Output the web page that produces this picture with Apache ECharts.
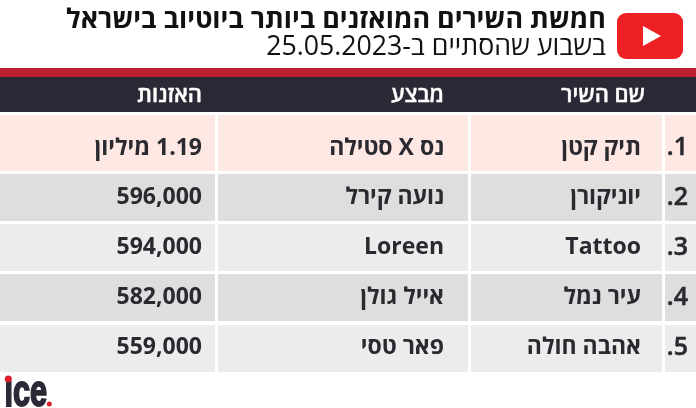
<!DOCTYPE html>
<html dir="rtl"><head><meta charset="utf-8">
<script src="https://cdn.jsdelivr.net/npm/echarts@6/dist/echarts.min.js"></script>
<style>html,body{margin:0;padding:0;background:#fff}#c{width:696px;height:408px}</style>
</head><body><div id="c"></div>
<script>
const titleText='חמשת השירים המואזנים ביותר ביוטיוב בישראל';
const subtitleText='בשבוע שהסתיים ב-25.05.2023';
const headers=['שם השיר','מבצע','האזנות'];
const ranks=['1.','2.','3.','4.','5.'];
const songs=['תיק קטן','יוניקורן','Tattoo','עיר נמל','אהבה חולה'];
const artists=['נס X סטילה','נועה קירל','Loreen','אייל גולן','פאר טסי'];
const plays=['1.19 מיליון','596,000','594,000','582,000','559,000'];

const FONT='"Open Sans"';
const colEdges=[[665,696],[471,662],[218,468],[0,215]];
const rowEdges=[[115,171],[174,221],[224,271],[274,321],[325,372]];
const rowCenter=[148,197.5,247.5,297.5,347.5];
const rowFill=['#fde8e3','#dfdddd','#edecec','#dfdddd','#edecec'];
const textRight=[688,641,444,202];
const headRight=[645,444,202];
const ink='#2a2930';

const cells=[];
[ranks,songs,artists,plays].forEach((col,c)=>col.forEach((t,r)=>cells.push({c,r,t})));

function renderCell(params,api){
  const {c,r,t}=cells[params.dataIndex];
  const [x0,x1]=colEdges[c],[y0,y1]=rowEdges[r];
  return {type:'group',children:[
    {type:'rect',shape:{x:x0,y:y0,width:x1-x0,height:y1-y0},style:{fill:rowFill[r]},silent:true},
    {type:'text',style:{text:t,x:textRight[c],y:rowCenter[r],align:'right',verticalAlign:'middle',
      font:(c===0?'600 25px ':'700 23px ')+FONT,fill:ink,stroke:c===0?ink:null,lineWidth:c===0?0.5:0}}
  ]};
}
const chart=echarts.init(document.getElementById('c'),null,{renderer:'canvas'});
chart.setOption({
  animation:false,
  backgroundColor:'#fff',
  series:[{type:'custom',coordinateSystem:'none',data:cells.map((d,i)=>[i]),renderItem:renderCell,silent:true}],
  graphic:[
    {type:'rect',shape:{x:0,y:68,width:696,height:9},style:{fill:'#ba2030'}},
    {type:'rect',shape:{x:0,y:77,width:696,height:35},style:{fill:'#2a2936'}},
    ...headers.map((h,i)=>({type:'text',style:{text:h,x:headRight[i],y:95.5,align:'right',verticalAlign:'middle',font:'600 22px '+FONT,fill:'#fff',stroke:'#fff',lineWidth:0.4}})),
    {type:'text',style:{text:titleText,x:606,y:20,align:'right',verticalAlign:'middle',font:'700 26.85px '+FONT,fill:'#111'}},
    {type:'text',style:{text:subtitleText,x:606,y:47,align:'right',verticalAlign:'middle',font:'400 26.7px '+FONT,fill:'#111'}},
    {type:'rect',shape:{x:617,y:13,width:66,height:46,r:9},style:{fill:'#ee2024'}},
    {type:'polygon',shape:{points:[[643,26],[643,46],[661,36]]},style:{fill:'#fff'}},
    {type:'text',x:4.5,y:371,scaleX:0.64,scaleY:0.93,style:{text:'ıce',x:0,y:0,align:'left',verticalAlign:'top',font:'700 48px "Liberation Sans Narrow","Liberation Sans"',fill:'#2a2936',stroke:'#2a2936',lineWidth:2}},
    {type:'circle',shape:{cx:8.3,cy:379,r:3.6},style:{fill:'#d9202a'}},
    {type:'circle',shape:{cx:49.3,cy:404,r:2.5},style:{fill:'#d9202a'}}
  ]
});
</script></body></html>
